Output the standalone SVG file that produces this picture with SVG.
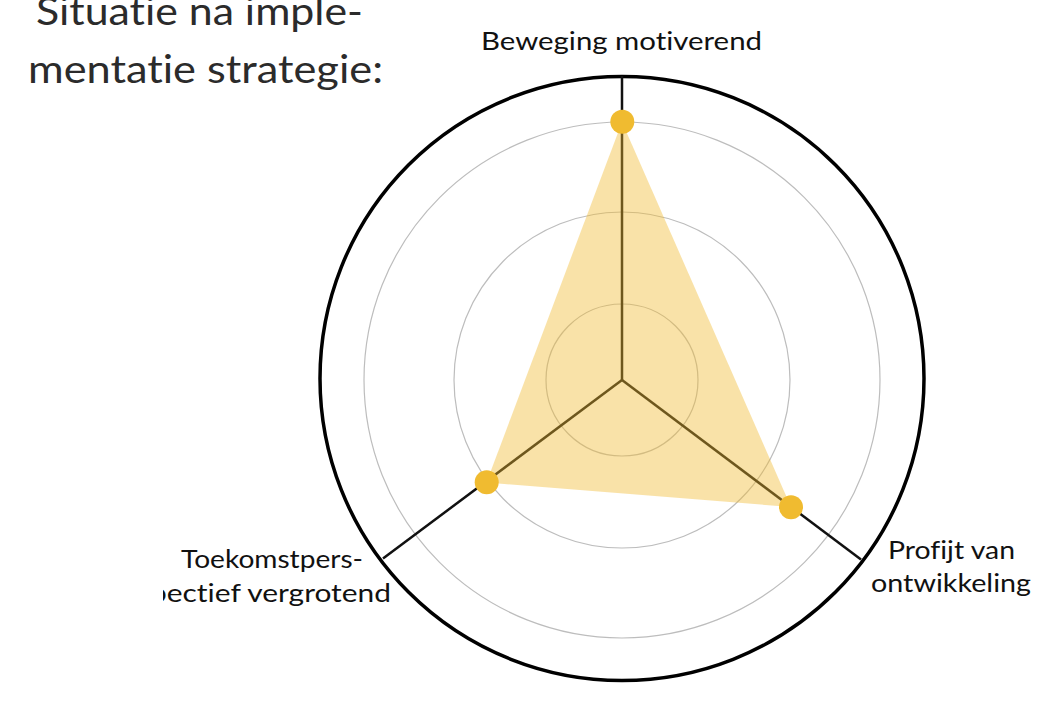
<svg xmlns="http://www.w3.org/2000/svg" width="1037" height="701" viewBox="0 0 1037 701">
<style>
.grid{fill:none;stroke:#bdbdbd;stroke-width:1.2}
.outer{fill:none;stroke:#000;stroke-width:3.5}
.axis{stroke:#111;stroke-width:2.5}
.dot{fill:#F0BB30}
.lbl{font-family:Lato,"Liberation Sans",sans-serif;font-size:25px;fill:#111;font-variant-ligatures:none}
.title{font-family:Lato,"Liberation Sans",sans-serif;font-size:38px;fill:#2b2b2b;font-variant-ligatures:none}
</style>
<defs>
<clipPath id="clipL"><rect x="163" y="570" width="300" height="50"/></clipPath>
</defs>
<rect width="1037" height="701" fill="#fff"/>
<g id="title">
<text class="title" x="36" y="25" textLength="327" lengthAdjust="spacingAndGlyphs">Situatie na imple-</text>
<text class="title" x="28" y="83" textLength="355" lengthAdjust="spacingAndGlyphs">mentatie strategie:</text>
</g>
<g id="grid">
<circle class="grid" cx="622" cy="380" r="76"/>
<circle class="grid" cx="622" cy="380" r="168"/>
<circle class="grid" cx="622" cy="380" r="258"/>
<circle class="outer" cx="622" cy="378.5" r="302"/>
</g>
<g id="connectors">
<line class="axis" x1="622" y1="380" x2="622" y2="76"/>
<line class="axis" x1="622" y1="380" x2="861" y2="559.5"/>
<line class="axis" x1="622" y1="380" x2="383" y2="558.5"/>
</g>
<g id="data">
<polygon points="622,122 791,507 486.5,482.5" fill="#F0BB30" fill-opacity="0.42"/>
<circle class="dot" cx="622.3" cy="121.7" r="12"/>
<circle class="dot" cx="791" cy="507.3" r="12"/>
<circle class="dot" cx="486.7" cy="482.3" r="12"/>
</g>
<g id="label-top">
<text class="lbl" x="481" y="50" textLength="281" lengthAdjust="spacingAndGlyphs">Beweging motiverend</text>
</g>
<g id="label-right">
<text class="lbl" x="888" y="559" textLength="127" lengthAdjust="spacingAndGlyphs">Profijt van</text>
<text class="lbl" x="871" y="592" textLength="160" lengthAdjust="spacingAndGlyphs">ontwikkeling</text>
</g>
<g id="label-left">
<text class="lbl" x="181" y="568" textLength="182" lengthAdjust="spacingAndGlyphs">Toekomstpers-</text>
<text class="lbl" x="150" y="602" textLength="241" lengthAdjust="spacingAndGlyphs" clip-path="url(#clipL)">pectief vergrotend</text>
</g>
</svg>
